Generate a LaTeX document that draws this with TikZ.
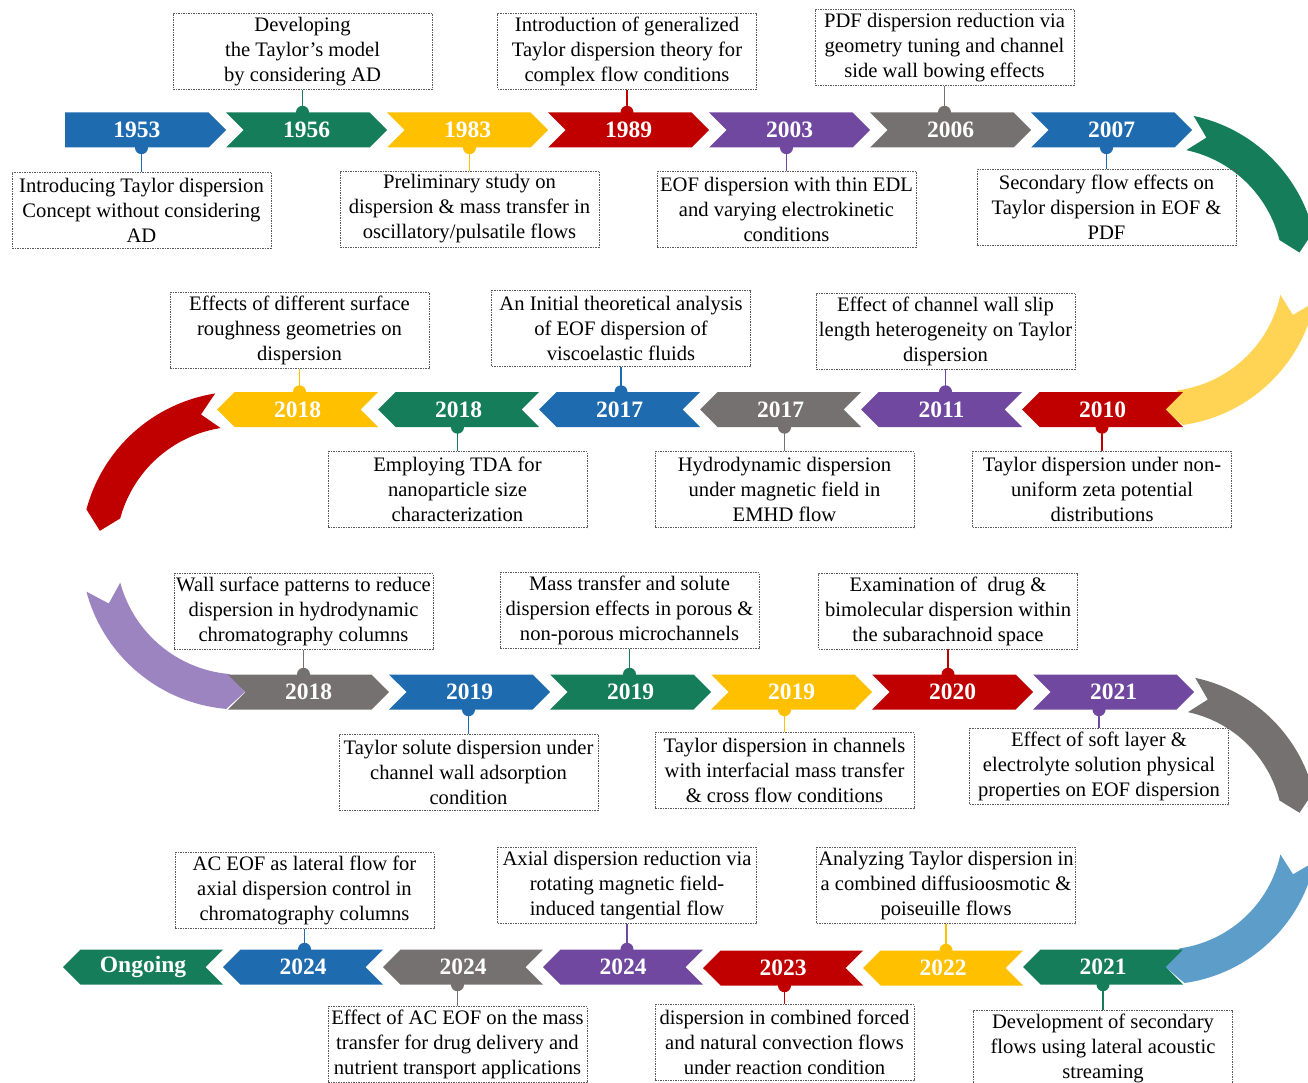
\documentclass[tikz,border=0pt]{standalone}
\usepackage{fontspec}
\setmainfont{Liberation Serif}
\usetikzlibrary{shapes.symbols}
\definecolor{blue1}{RGB}{30,107,175}
\definecolor{green1}{RGB}{21,125,90}
\definecolor{yellow1}{RGB}{255,192,0}
\definecolor{red1}{RGB}{192,0,0}
\definecolor{purple1}{RGB}{112,72,160}
\definecolor{gray1}{RGB}{118,113,113}
\definecolor{yellow2}{RGB}{255,212,85}
\definecolor{purple2}{RGB}{155,132,192}
\definecolor{blue2}{RGB}{92,157,202}
\tikzset{
  yr/.style={shape=signal, signal pointer angle=90, minimum height=35pt, minimum width=161pt,
    inner sep=0pt, text=white, font=\fontsize{23.5}{25}\selectfont\bfseries},
  rt/.style={signal to=east, signal from=west},
  lt/.style={signal to=west, signal from=east},
  note/.style={draw=gray!70!black, dash pattern=on 1.5pt off 1pt, line width=0.8pt,
    minimum width=259pt, minimum height=76pt, inner sep=1pt, align=center,
    text=black, font=\fontsize{20.6}{25}\selectfont}
}

\begin{document}
\begin{tikzpicture}[x=1pt,y=-1pt]
\path[use as bounding box, clip] (0,0) rectangle (1308,1083);

% turning bands
\begin{scope}[shift={(1161,269.5)}]
\fill[green1] (-78:157) arc[start angle=-78, end angle=-14, radius=157] -- (-7:139.5) -- (-14:122) arc[start angle=-14, end angle=-78, radius=122] -- (-71:139.5) -- cycle;
\fill[yellow2] (12:157) arc[start angle=12, end angle=82, radius=157] -- (89:139.5) -- (82:122) arc[start angle=82, end angle=12, radius=122] -- (19:139.5) -- cycle;
\end{scope}
\begin{scope}[shift={(240,550.5)}]
\fill[red1] (-99:159) arc[start angle=-99, end angle=-165, radius=159] -- (-172:141.5) -- (-165:124) arc[start angle=-165, end angle=-99, radius=124] -- (-106:141.5) -- cycle;
\fill[purple2] (-195:159) arc[start angle=-195, end angle=-265, radius=159] -- (-272:141.5) -- (-265:124) arc[start angle=-265, end angle=-195, radius=124] -- (-202:141.5) -- cycle;
\end{scope}
\begin{scope}[shift={(1163,829.5)}]
\fill[gray1] (-78:155) arc[start angle=-78, end angle=-14, radius=155] -- (-7:137.5) -- (-14:120) arc[start angle=-14, end angle=-78, radius=120] -- (-71:137.5) -- cycle;
\fill[blue2] (12:155) arc[start angle=12, end angle=82, radius=155] -- (89:137.5) -- (82:120) arc[start angle=82, end angle=12, radius=120] -- (19:137.5) -- cycle;
\end{scope}

% row 1
\node[yr, signal to=east, fill=blue1] (a1) at (136.75,130) {1953};
\node[yr, rt, fill=green1] (a2) at (306.5,130) {1956};
\node[yr, rt, fill=yellow1] (a3) at (467.5,130) {1983};
\node[yr, rt, fill=red1] (a4) at (628.5,130) {1989};
\node[yr, rt, fill=purple1] (a5) at (789.5,130) {2003};
\node[yr, rt, fill=gray1] (a6) at (950.5,130) {2006};
\node[yr, rt, fill=blue1] (a7) at (1111.5,130) {2007};
% row 2
\node[yr, lt, fill=red1] (b1) at (1102.5,409.5) {2010};
\node[yr, lt, fill=purple1] (b2) at (941.5,409.5) {2011};
\node[yr, lt, fill=gray1] (b3) at (780.5,409.5) {2017};
\node[yr, lt, fill=blue1] (b4) at (619.5,409.5) {2017};
\node[yr, lt, fill=green1] (b5) at (458.5,409.5) {2018};
\node[yr, lt, fill=yellow1] (b6) at (297.5,409.5) {2018};
% row 3
\node[yr, rt, fill=gray1] (c1) at (308.5,692) {2018};
\node[yr, rt, fill=blue1] (c2) at (469.5,692) {2019};
\node[yr, rt, fill=green1] (c3) at (630.5,692) {2019};
\node[yr, rt, fill=yellow1] (c4) at (791.5,692) {2019};
\node[yr, rt, fill=red1] (c5) at (952.5,692) {2020};
\node[yr, rt, fill=purple1] (c6) at (1113.5,692) {2021};
% row 4
\node[yr, lt, minimum width=160pt, fill=green1] (d1) at (1103,967) {2021};
\node[yr, lt, minimum width=160pt, fill=yellow1] (d2) at (943,968) {2022};
\node[yr, lt, minimum width=160pt, fill=red1] (d3) at (783,968) {2023};
\node[yr, lt, minimum width=160pt, fill=purple1] (d4) at (623,967) {2024};
\node[yr, lt, minimum width=160pt, fill=gray1] (d5) at (463,967) {2024};
\node[yr, lt, minimum width=160pt, fill=blue1] (d6) at (303,967) {2024};
\node[yr, lt, minimum width=160pt, fill=green1] (d7) at (143,967) {Ongoing};

% notes
\node[note] (na1) at (141.5,210) {Introducing Taylor dispersion\\Concept without considering\\AD};
\node[note] (na2) at (302.5,51.5) {Developing\\the Taylor's model\\by considering AD};
\node[note] (na3) at (469.5,209) {Preliminary study on\\dispersion \& mass transfer in\\oscillatory/pulsatile flows};
\node[note] (na4) at (627,51.5) {Introduction of generalized\\Taylor dispersion theory for\\complex flow conditions};
\node[note] (na5) at (786.5,209.5) {EOF dispersion with thin EDL\\and varying electrokinetic\\conditions};
\node[note] (na6) at (944.5,47.5) {PDF dispersion reduction via\\geometry tuning and channel\\side wall bowing effects};
\node[note] (na7) at (1106.5,207.5) {Secondary flow effects on\\Taylor dispersion in EOF \&\\PDF};
\node[note] (nb1) at (1102,489.5) {Taylor dispersion under non-\\uniform zeta potential\\distributions};
\node[note] (nb2) at (945.5,331) {Effect of channel wall slip\\length heterogeneity on Taylor\\dispersion};
\node[note] (nb3) at (784.5,489.5) {Hydrodynamic dispersion\\under magnetic field in\\EMHD flow};
\node[note] (nb4) at (621,328.5) {An Initial theoretical analysis\\of EOF dispersion of\\viscoelastic fluids};
\node[note] (nb5) at (457.5,489.5) {Employing TDA for\\nanoparticle size\\characterization};
\node[note] (nb6) at (299.5,330.5) {Effects of different surface\\roughness geometries on\\dispersion};
\node[note] (nc1) at (303.5,611.5) {Wall surface patterns to reduce\\dispersion in hydrodynamic\\chromatography columns};
\node[note] (nc2) at (468.5,772) {Taylor solute dispersion under\\channel wall adsorption\\condition};
\node[note] (nc3) at (629.5,610.5) {Mass transfer and solute\\dispersion effects in porous \&\\non-porous microchannels};
\node[note] (nc4) at (784.5,770.5) {Taylor dispersion in channels\\with interfacial mass transfer\\\& cross flow conditions};
\node[note] (nc5) at (948,611) {Examination of\ \ drug \&\\bimolecular dispersion within\\the subarachnoid space};
\node[note] (nc6) at (1099,766.5) {Effect of soft layer \&\\electrolyte solution physical\\properties on EOF dispersion};
\node[note] (nd1) at (1103,1048) {Development of secondary\\flows using lateral acoustic\\streaming};
\node[note] (nd2) at (946,885.5) {Analyzing Taylor dispersion in\\a combined diffusioosmotic \&\\poiseuille flows};
\node[note] (nd3) at (784.5,1042.5) {dispersion in combined forced\\and natural convection flows\\under reaction condition};
\node[note] (nd4) at (627,885.5) {Axial dispersion reduction via\\rotating magnetic field-\\induced tangential flow};
\node[note] (nd5) at (457.5,1044.5) {Effect of AC EOF on the mass\\transfer for drug delivery and\\nutrient transport applications};
\node[note] (nd6) at (304.5,890.5) {AC EOF as lateral flow for\\axial dispersion control in\\chromatography columns};

% pins to the notes
\foreach \k/\c in {a2/green1,a4/red1,a6/gray1,b2/purple1,b4/blue1,b6/yellow1,c1/gray1,c3/green1,c5/red1,d2/yellow1,d4/purple1,d6/blue1}{
  \draw[\c, line width=1.5pt] (n\k.south) -- (n\k.south |- \k.north);
  \fill[\c] (n\k.south |- \k.north) circle (6.5);
}
\foreach \k/\c in {a1/blue1,a3/yellow1,a5/purple1,a7/blue1,b1/red1,b3/gray1,b5/green1,c2/blue1,c4/yellow1,c6/purple1,d1/green1,d3/red1,d5/gray1}{
  \draw[\c, line width=1.5pt] (n\k.north) -- (n\k.north |- \k.south);
  \fill[\c] (n\k.north |- \k.south) circle (6.5);
}
\end{tikzpicture}
\end{document}
